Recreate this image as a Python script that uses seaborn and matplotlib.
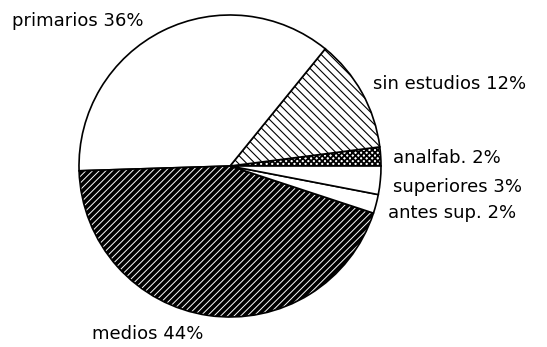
import seaborn as sns
import matplotlib.pyplot as plt

# niveles de estudios, en el orden en que van alrededor del circulo (desde la derecha, sentido antihorario)
categorias = ['analfab.', 'sin estudios', 'primarios', 'medios', 'antes sup.', 'superiores']
porcentajes = [2, 12, 36, 44, 2, 3]
etiquetas = ['analfab. 2%', 'sin estudios 12%', 'primarios 36%', 'medios 44%', 'antes sup. 2%', 'superiores 3%']

sns.set_theme(style='white')
plt.rcParams['font.family'] = ['DejaVu Sans']
plt.rcParams['hatch.color'] = 'black'

tramas = ['xxxxxx', '\\\\\\\\', '', '/////', '', '']
grosor_trama = [1.3, 0.8, 0.8, 2.7, 0.8, 0.8]

fig = plt.figure(figsize=(5.47, 3.47), dpi=100)
ax = fig.add_axes([0, 0, 1, 1])

H = 347
wedges, _ = ax.pie(porcentajes, startangle=0, counterclock=True,
                   center=(230, H - 166), radius=151,
                   colors=['white'] * len(porcentajes),
                   wedgeprops={'edgecolor': 'black', 'linewidth': 1.2})
for w, h, lw in zip(wedges, tramas, grosor_trama):
    w.set_hatch(h)
    if hasattr(w, 'set_hatch_linewidth'):
        w.set_hatch_linewidth(lw)

# posicion de cada rotulo (borde izquierdo, centro vertical) en pixeles
pos_rotulos = {
    'primarios 36%': (12, 21),
    'sin estudios 12%': (373, 84),
    'analfab. 2%': (393, 158),
    'superiores 3%': (393, 187),
    'antes sup. 2%': (388, 213),
    'medios 44%': (92, 334),
}
for txt in etiquetas:
    x, y = pos_rotulos[txt]
    ax.text(x, H - y, txt, ha='left', va='center', fontsize=13, color='black')

ax.set_xlim(0, 547)
ax.set_ylim(0, H)
ax.set_aspect('equal')
ax.axis('off')

fig.savefig('out.png', dpi=100, facecolor='white')
